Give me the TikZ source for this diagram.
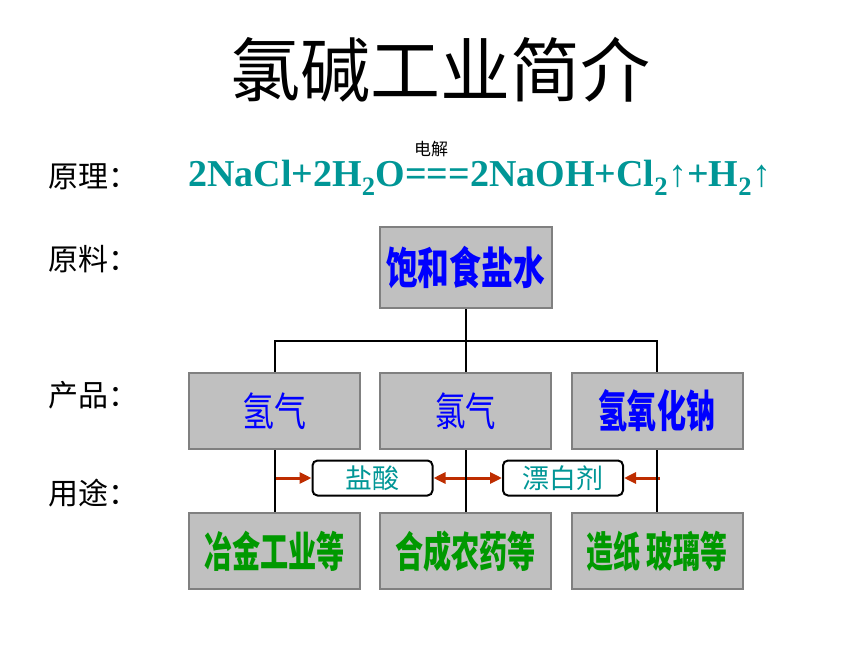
\documentclass[tikz,border=0pt]{standalone}
\usepackage{fontspec}
\setmainfont{Liberation Serif}
\newfontfamily\cjk{Noto Sans CJK SC}
\usetikzlibrary{arrows.meta, positioning}

\definecolor{boxgray}{RGB}{192,192,192}
\definecolor{edgegray}{RGB}{128,128,128}
\definecolor{eqteal}{RGB}{0,150,150}
\definecolor{prodblue}{RGB}{0,0,255}
\definecolor{usegreen}{RGB}{0,153,0}
\definecolor{arrowred}{RGB}{190,45,0}

\tikzset{
  graybox/.style={draw=edgegray, line width=2pt, fill=boxgray,
    minimum width=171pt, minimum height=76pt, inner sep=0pt},
  prodtext/.style={text=prodblue, font=\cjk},
  usetext/.style={text=usegreen, font=\cjk\bfseries},
  tagbox/.style={draw=black, line width=2pt, fill=white, rounded corners=5pt,
    minimum width=120pt, minimum height=35pt, inner sep=0pt, text=eqteal,
    font=\cjk\fontsize{27}{27}\selectfont},
  rowlabel/.style={anchor=west, inner sep=0pt, font=\cjk\fontsize{30}{30}\selectfont},
  link/.style={draw=black, line width=2pt},
  feed/.style={draw=arrowred, line width=3pt, -{Triangle[length=12pt,width=11pt]}}
}

\begin{document}
\begin{tikzpicture}[x=1pt, y=-1pt]
  \useasboundingbox (0,0) rectangle (860,645);

  % Title and row labels
  \node[font=\cjk\fontsize{70}{70}\selectfont] (title) at (440,70) {氯碱工业简介};
  \node[rowlabel] (principle) at (48,177) {原理：};
  \node[rowlabel] (material)  at (48,259) {原料：};
  \node[rowlabel] (product)   at (48,395) {产品：};
  \node[rowlabel] (usage)     at (48,493) {用途：};

  % Reaction
  \node[anchor=base west, inner sep=0pt, text=eqteal, font=\bfseries\fontsize{38}{38}\selectfont]
    (eq) at (188,186) {2NaCl+2H\textsubscript{2}O===2NaOH+Cl\textsubscript{2}↑+H\textsubscript{2}↑};
  \node[font=\cjk\fontsize{17}{17}\selectfont] (elec) at (431,149) {电解};

  % Raw material and products
  \node[graybox, minimum width=172pt, minimum height=81pt, text=prodblue, font=\cjk\bfseries]
    (brine) at (465.5,267.5) {\scalebox{0.72}[1]{\fontsize{44}{44}\selectfont 饱和食盐水}};
  \node[graybox, prodtext] (h2)   at (274.5,411) {\scalebox{0.8}[1]{\fontsize{40}{40}\selectfont 氢气}};
  \node[graybox, prodtext] (cl2)  at (465.5,411) {\scalebox{0.76}[1]{\fontsize{40}{40}\selectfont 氯气}};
  \node[graybox, prodtext, font=\cjk\bfseries] (naoh) at (657,411)
    {\scalebox{0.66}[1]{\fontsize{44}{44}\selectfont 氢氧化钠}};

  % Uses
  \node[graybox, usetext] (use1) at (274.5,551) {\scalebox{0.67}[1]{\fontsize{42}{42}\selectfont 冶金工业等}};
  \node[graybox, usetext] (use2) at (465.5,551) {\scalebox{0.67}[1]{\fontsize{42}{42}\selectfont 合成农药等}};
  \node[graybox, usetext] (use3) at (657,551) {\scalebox{0.64}[1]{\fontsize{42}{42}\selectfont 造纸 玻璃等}};

  % By-products
  \node[tagbox] (hcl)    at (372.5,478) {盐酸};
  \node[tagbox] (bleach) at (563,478) {漂白剂};

  % Tree connectors
  \coordinate (split) at (465.5,341);
  \draw[link] (brine.south) -- (split);
  \draw[link] (split) -| (h2.north);
  \draw[link] (split) -- (cl2.north);
  \draw[link] (split) -| (naoh.north);

  \draw[feed] (h2.south |- hcl.west) -- (hcl.west);
  \draw[feed] (cl2.south |- hcl.east) -- (hcl.east);
  \draw[feed] (cl2.south |- bleach.west) -- (bleach.west);
  \draw[feed] ([xshift=3pt]naoh.south |- bleach.east) -- (bleach.east);

  \draw[link] (h2.south) -- (use1.north);
  \draw[link] (cl2.south) -- (use2.north);
  \draw[link] (naoh.south) -- (use3.north);
\end{tikzpicture}
\end{document}
